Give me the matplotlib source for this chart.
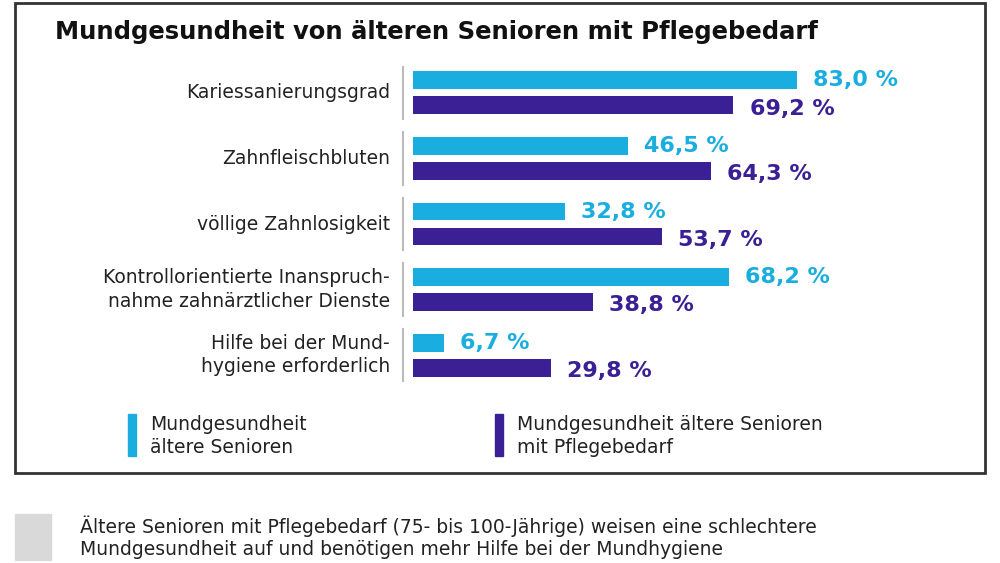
import matplotlib
matplotlib.use("Agg")
import matplotlib.pyplot as plt
from matplotlib.patches import Rectangle

title = "Mundgesundheit von älteren Senioren mit Pflegebedarf"
categories = ["Kariessanierungsgrad", "Zahnfleischbluten", "völlige Zahnlosigkeit",
              "Kontrollorientierte Inanspruch-\nnahme zahnärztlicher Dienste",
              "Hilfe bei der Mund-\nhygiene erforderlich"]
senioren = [83.0, 46.5, 32.8, 68.2, 6.7]
pflege = [69.2, 64.3, 53.7, 38.8, 29.8]
legend_labels = ["Mundgesundheit\nältere Senioren", "Mundgesundheit ältere Senioren\nmit Pflegebedarf"]
note = "Ältere Senioren mit Pflegebedarf (75- bis 100-Jährige) weisen eine schlechtere\nMundgesundheit auf und benötigen mehr Hilfe bei der Mundhygiene"

C1, C2 = "#1aaee0", "#3b1f95"
W, H = 1000, 563
fig = plt.figure(figsize=(10, 5.63), dpi=100)
fig.patch.set_facecolor("white")

def fx(x): return x / W
def fy(y): return 1 - y / H

fig.patches.append(Rectangle((fx(15), fy(473)), fx(970), 470 / H, transform=fig.transFigure,
                             fill=False, edgecolor="#333333", lw=2))
fig.text(fx(55), fy(32), title, fontsize=17.5, fontweight="bold", va="center", color="#111111")

ax = fig.add_axes([fx(413), fy(388), 463 / W, 328 / H])
ax.set_xlim(0, 100)
n = len(categories)
ax.set_ylim(n - 0.5, -0.5)
ax.axis("off")
off, bh = 0.19, 0.27
for i in range(n):
    ax.barh(i - off, senioren[i], height=bh, color=C1)
    ax.barh(i + off, pflege[i], height=bh, color=C2)
    ax.text(senioren[i] + 3.5, i - off, f"{senioren[i]:.1f} %".replace(".", ","), color=C1,
            fontsize=16, fontweight="bold", va="center")
    ax.text(pflege[i] + 3.5, i + off + 0.05, f"{pflege[i]:.1f} %".replace(".", ","), color=C2,
            fontsize=16, fontweight="bold", va="center")
    ax.plot([-2.2, -2.2], [i - 0.4, i + 0.4], color="#bbbbbb", lw=1.5, clip_on=False)
    ax.text(-5.0, i, categories[i], ha="right", va="center", fontsize=13.5,
            color="#222222", linespacing=1.3)

fig.patches.append(Rectangle((fx(128), fy(456)), fx(8), 42 / H, transform=fig.transFigure, color=C1))
fig.text(fx(150), fy(436), legend_labels[0], fontsize=13.5, va="center", linespacing=1.3, color="#222222")
fig.patches.append(Rectangle((fx(495), fy(456)), fx(8), 42 / H, transform=fig.transFigure, color=C2))
fig.text(fx(517), fy(436), legend_labels[1], fontsize=13.5, va="center", linespacing=1.3, color="#222222")

fig.patches.append(Rectangle((fx(15), fy(560)), fx(36), 46 / H, transform=fig.transFigure, color="#d9d9d9"))
fig.text(fx(80), fy(537), note, fontsize=13.5, va="center", linespacing=1.2, color="#222222")

fig.savefig("out.png", dpi=100)
